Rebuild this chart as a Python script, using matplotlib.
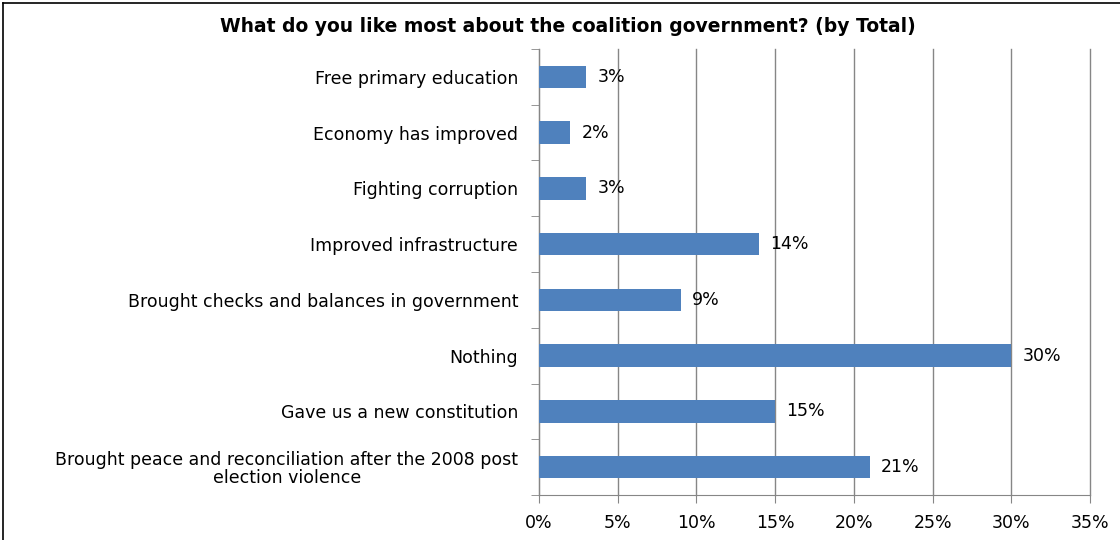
import matplotlib
matplotlib.use("Agg")
import matplotlib.pyplot as plt
from matplotlib.ticker import FuncFormatter

plt.rcParams['font.family'] = ['DejaVu Sans']

# answers, listed bottom to top as they appear on the axis
categories = [
    "Brought peace and reconciliation after the 2008 post\nelection violence",
    "Gave us a new constitution",
    "Nothing",
    "Brought checks and balances in government",
    "Improved infrastructure",
    "Fighting corruption",
    "Economy has improved",
    "Free primary education",
]
values = [21, 15, 30, 9, 14, 3, 2, 3]
x_ticks = [0, 5, 10, 15, 20, 25, 30, 35]

title = "What do you like most about the coalition government? (by Total)"
bar_color = "#4F81BD"
grid_color = "#868686"

fig = plt.figure(figsize=(11.2, 5.4), dpi=100)
ax = fig.add_axes([539 / 1120, 45 / 540, 551 / 1120, 446 / 540])

ypos = range(len(categories))
ax.barh(ypos, values, height=0.4, color=bar_color, zorder=3)
for y, v in zip(ypos, values):
    ax.annotate(f"{v}%", (v, y), xytext=(8, 0), textcoords="offset points",
                va="center", ha="left", fontsize=12.5, color="black")

ax.set_xlim(0, 35)
ax.set_ylim(-0.5, len(categories) - 0.5)
ax.set_xticks(x_ticks)
ax.xaxis.set_major_formatter(FuncFormatter(lambda v, p: f"{v:.0f}%"))
ax.set_yticks(list(ypos))
ax.set_yticklabels(categories, fontsize=12.5)
ax.set_yticks([y - 0.5 for y in range(len(categories) + 1)], minor=True)
ax.tick_params(axis="y", which="major", length=0, pad=15)
ax.tick_params(axis="y", which="minor", length=6, color=grid_color, direction="out")
ax.tick_params(axis="x", length=6, color=grid_color, labelsize=12.5, pad=8)

for lbl in ax.get_yticklabels():
    lbl.set_multialignment("center")
    lbl.set_linespacing(1.0)

ax.grid(axis="x", color=grid_color, linewidth=1, zorder=0)
# keep the last gridline at 35% from being clipped at the axes edge
for gl in ax.get_xgridlines():
    gl.set_clip_on(False)
for s in ["top", "right"]:
    ax.spines[s].set_visible(False)
ax.spines["left"].set_color(grid_color)
ax.spines["bottom"].set_color(grid_color)

fig.text(568 / 1120, 1 - 26 / 540, title, ha="center", va="center",
         fontsize=13.5, fontweight="bold")

# frame lines along the top and left edge
fig.add_artist(plt.Line2D([3 / 1120, 1], [1 - 3 / 540] * 2, color="black", lw=1.2))
fig.add_artist(plt.Line2D([3 / 1120] * 2, [0, 1 - 3 / 540], color="black", lw=1.2))

fig.savefig("out.png", dpi=100)
